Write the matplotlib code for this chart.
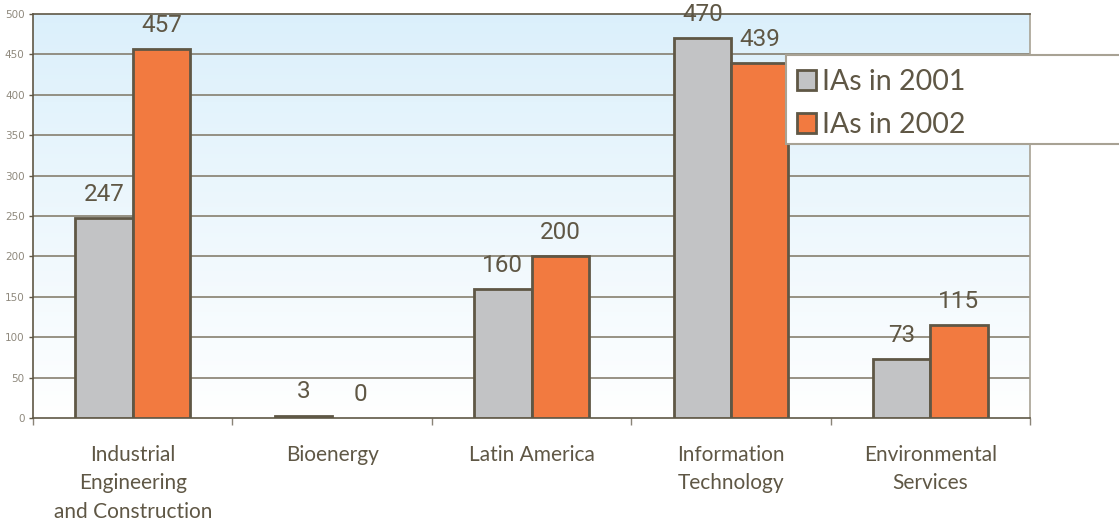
import matplotlib.pyplot as plt
import numpy as np
from matplotlib.patches import Rectangle

categories = ["Industrial\nEngineering\nand Construction", "Bioenergy",
              "Latin America", "Information\nTechnology", "Environmental\nServices"]
ias_2001 = [247, 3, 160, 470, 73]
ias_2002 = [457, 0, 200, 439, 115]
series_names = ["IAs in 2001", "IAs in 2002"]
yticks = list(range(0, 501, 50))

ink = "#5f5745"
grey = "#c2c3c5"
orange = "#f27a40"

fig = plt.figure(figsize=(11.19, 5.26), dpi=100)
ax = fig.add_axes([33 / 1119, 1 - 418 / 526, (1030 - 33) / 1119, (418 - 14) / 526])

# pale blue fade behind the bars
grad = np.linspace(0, 1, 256).reshape(-1, 1)
top = np.array([0.86, 0.94, 0.985])
bot = np.array([1.0, 1.0, 1.0])
img = top * grad[..., None] + bot * (1 - grad[..., None])
ax.imshow(img, extent=[0, 1, 0, 1], transform=ax.transAxes, aspect="auto",
          origin="lower", zorder=0)

x = np.arange(len(categories))
w = 0.287
ax.set_xlim(-0.5, len(categories) - 0.5)
ax.set_ylim(0, 500)

for y in yticks[1:-1]:
    ax.axhline(y, color="#7d7563", lw=1.1, zorder=1)

b1 = ax.bar(x - w / 2, ias_2001, w, color=grey, edgecolor=ink, linewidth=2, zorder=3,
            label=series_names[0])
b2 = ax.bar(x + w / 2, ias_2002, w, color=orange, edgecolor=ink, linewidth=2, zorder=3,
            label=series_names[1])
# a zero-height bar shows no outline
for bars, vals in ((b1, ias_2001), (b2, ias_2002)):
    for r, v in zip(bars, vals):
        if v == 0:
            r.set_linewidth(0)

for xs, vals in ((x - w / 2, ias_2001), (x + w / 2, ias_2002)):
    for xi, v in zip(xs, vals):
        ax.annotate(str(v), (xi, v), xytext=(0, 17), textcoords="offset points",
                    ha="center", va="center", fontsize=17.5, color=ink,
                    family="Roboto", zorder=4, annotation_clip=False)

ax.set_yticks(yticks)
ax.set_yticklabels([str(t) for t in yticks], fontsize=7.5, color="#8f897d")
ax.tick_params(axis="y", length=3, color=ink, width=1, pad=3)

ax.set_xticks(np.arange(len(categories) + 1) - 0.5)
ax.set_xticklabels([])
ax.tick_params(axis="x", length=5, color="#8a8478", width=1)
for xi, c in zip(x, categories):
    ax.text(xi, -0.066, c, transform=ax.get_xaxis_transform(), ha="center", va="top",
            fontsize=15, color=ink, family="Lato", linespacing=1.54)

for s in ("left", "top", "bottom"):
    ax.spines[s].set_color(ink)
    ax.spines[s].set_linewidth(1.2)
ax.spines["right"].set_color("#a8a294")
ax.spines["right"].set_linewidth(1.2)

# legend box running off the right edge
fig.patches.append(Rectangle((786 / 1119, 1 - 144 / 526), 0.3, 89 / 526,
                             transform=fig.transFigure, facecolor="white",
                             edgecolor="#a8a294", lw=1.5, zorder=5))
leg = fig.legend(handles=[b1, b2], loc="upper left",
                 bbox_to_anchor=(788 / 1119, 1 - 60 / 526), frameon=False,
                 prop={"family": "Lato", "size": 20.5}, labelcolor=ink,
                 handlelength=0.7, handleheight=0.7, handletextpad=0.2,
                 labelspacing=0.6, borderpad=0.3, borderaxespad=0)
leg.set_zorder(6)

fig.savefig("out.png", dpi=100)
